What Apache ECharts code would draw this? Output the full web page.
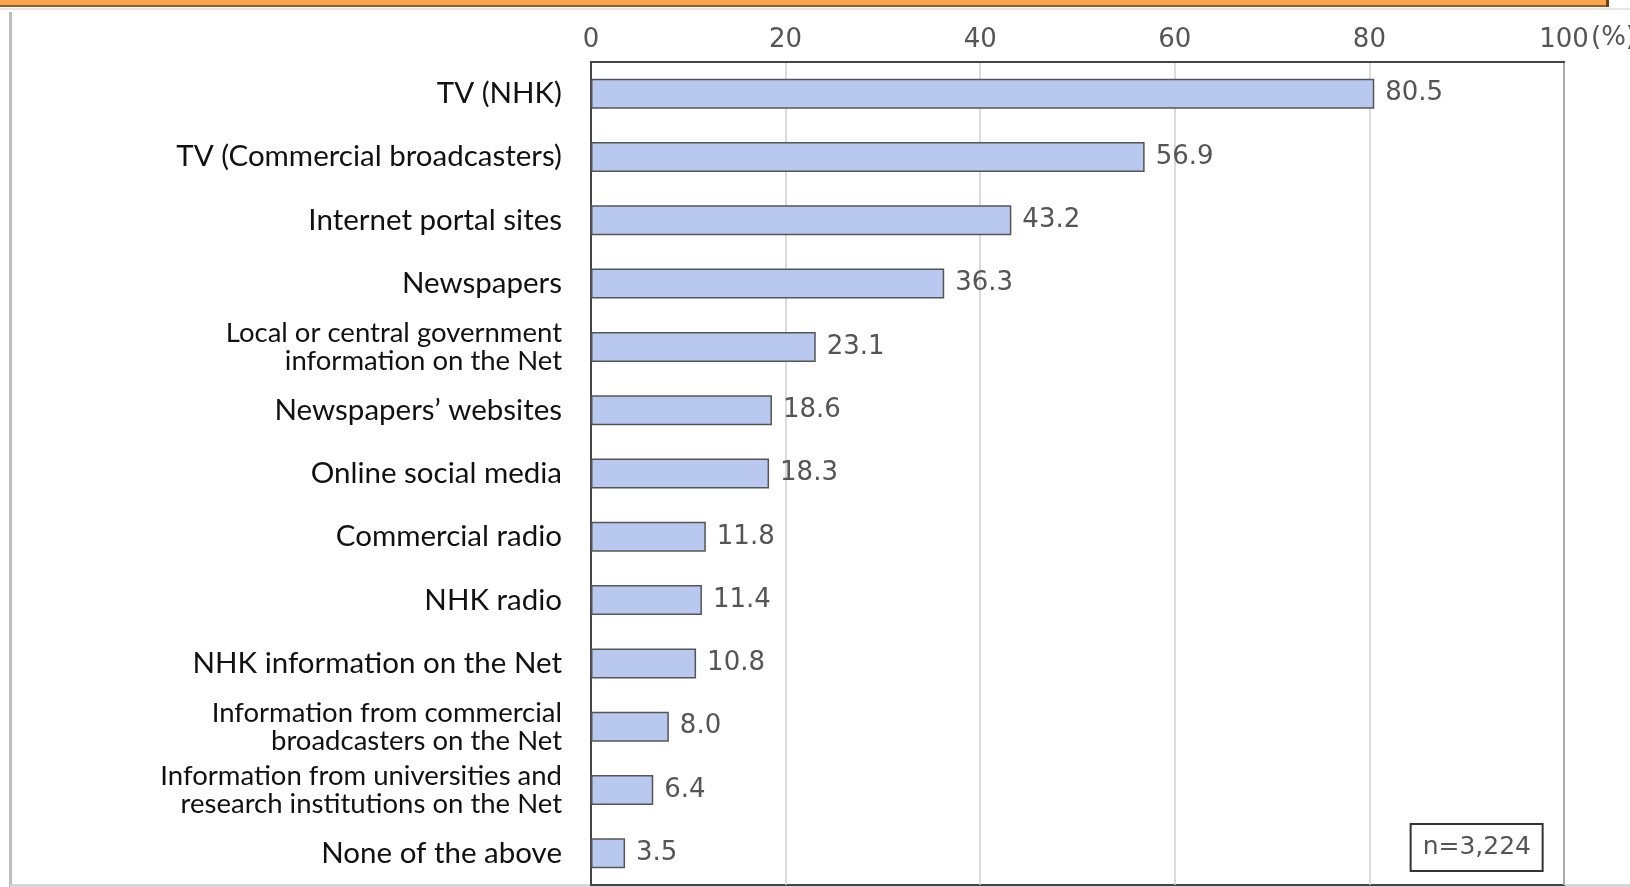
<!DOCTYPE html>
<html>
<head>
<meta charset="utf-8">
<script src="https://cdn.jsdelivr.net/npm/echarts@6/dist/echarts.min.js"></script>
<style>
html,body{margin:0;padding:0;background:#fff;}
#chart{width:1630px;height:887px;}
</style>
</head>
<body>
<div id="chart"></div>
<script>
const categories = [
  'TV (NHK)',
  'TV (Commercial broadcasters)',
  'Internet portal sites',
  'Newspapers',
  'Local or central government\ninformation on the Net',
  'Newspapers\u2019 websites',
  'Online social media',
  'Commercial radio',
  'NHK radio',
  'NHK information on the Net',
  'Information from commercial\nbroadcasters on the Net',
  'Information from universities and\nresearch institutions on the Net',
  'None of the above'
];
const values = [80.5, 56.9, 43.2, 36.3, 23.1, 18.6, 18.3, 11.8, 11.4, 10.8, 8.0, 6.4, 3.5];
const xTicks = [0, 20, 40, 60, 80, 100];
const sampleNote = 'n=3,224';
const unitLabel = '(%)';

const chart = echarts.init(document.getElementById('chart'), null, {renderer: 'canvas'});
const numFont = 'DejaVu Sans';
chart.setOption({
  backgroundColor: '#ffffff',
  animation: false,
  title: {
    text: sampleNote,
    right: 87,
    bottom: 16,
    borderColor: '#333',
    borderWidth: 2,
    padding: [11, 12, 11, 12],
    textStyle: {fontFamily: numFont, fontSize: 25, fontWeight: 'normal', color: '#555'}
  },
  grid: {left: 591, right: 66, top: 62, bottom: 2, outerBoundsMode: 'none', containLabel: false, show: true, borderColor: '#444', borderWidth: 2, backgroundColor: 'transparent'},
  xAxis: {
    type: 'value',
    position: 'top',
    min: xTicks[0],
    max: xTicks[xTicks.length - 1],
    interval: 20,
    axisLine: {show: true, lineStyle: {color: '#444', width: 2}},
    axisTick: {show: false},
    axisLabel: {margin: 9, fontFamily: numFont, fontSize: 26, color: '#555'},
    splitLine: {show: true, lineStyle: {color: '#cfcfcf', width: 1.5}}
  },
  yAxis: {
    type: 'category',
    inverse: true,
    data: categories,
    axisLine: {show: true, lineStyle: {color: '#444', width: 2}},
    axisTick: {show: false},
    axisLabel: {
      margin: 29,
      align: 'right',
      formatter: function (v) {
        if (v.indexOf('\n') >= 0) {
          return v.split('\n').map(l => '{s|' + l + '}').join('\n');
        }
        return '{b|' + v + '}';
      },
      rich: {
        b: {fontFamily: 'Lato', fontSize: 29.5, color: '#111', align: 'right'},
        s: {fontFamily: 'Lato', fontSize: 27.5, lineHeight: 28, color: '#111', align: 'right'}
      }
    }
  },
  series: [{
    type: 'bar',
    data: values,
    barWidth: 30,
    itemStyle: {color: '#b9c8ee', borderColor: '#555', borderWidth: 1.5},
    label: {
      show: true,
      position: 'right',
      distance: 11,
      fontFamily: numFont,
      fontSize: 26,
      color: '#555',
      formatter: p => p.value.toFixed(1)
    }
  }],
  graphic: [
    {type: 'rect', z: -10, shape: {x: 0, y: 0, width: 1608, height: 6}, style: {fill: '#f9a44e'}},
    {type: 'rect', z: -10, shape: {x: 0, y: 5, width: 1608, height: 2}, style: {fill: '#9a5a22'}},
    {type: 'rect', z: -10, shape: {x: 1606, y: 0, width: 3, height: 7}, style: {fill: '#6b3f18'}},
    {type: 'rect', z: -10, shape: {x: 0, y: 8, width: 1630, height: 2}, style: {fill: '#e6e6e6'}},
    {type: 'rect', z: -10, shape: {x: 9, y: 12, width: 3, height: 875}, style: {fill: '#bdbdbd'}},
    {type: 'rect', z: -10, shape: {x: 10, y: 884, width: 1620, height: 3}, style: {fill: '#d6d6d6'}},
    {type: 'text', x: 1591, y: 38, style: {text: unitLabel, fontFamily: numFont, fontSize: 26, fill: '#555', verticalAlign: 'middle', align: 'left'}}
  ]
});
</script>
</body>
</html>
